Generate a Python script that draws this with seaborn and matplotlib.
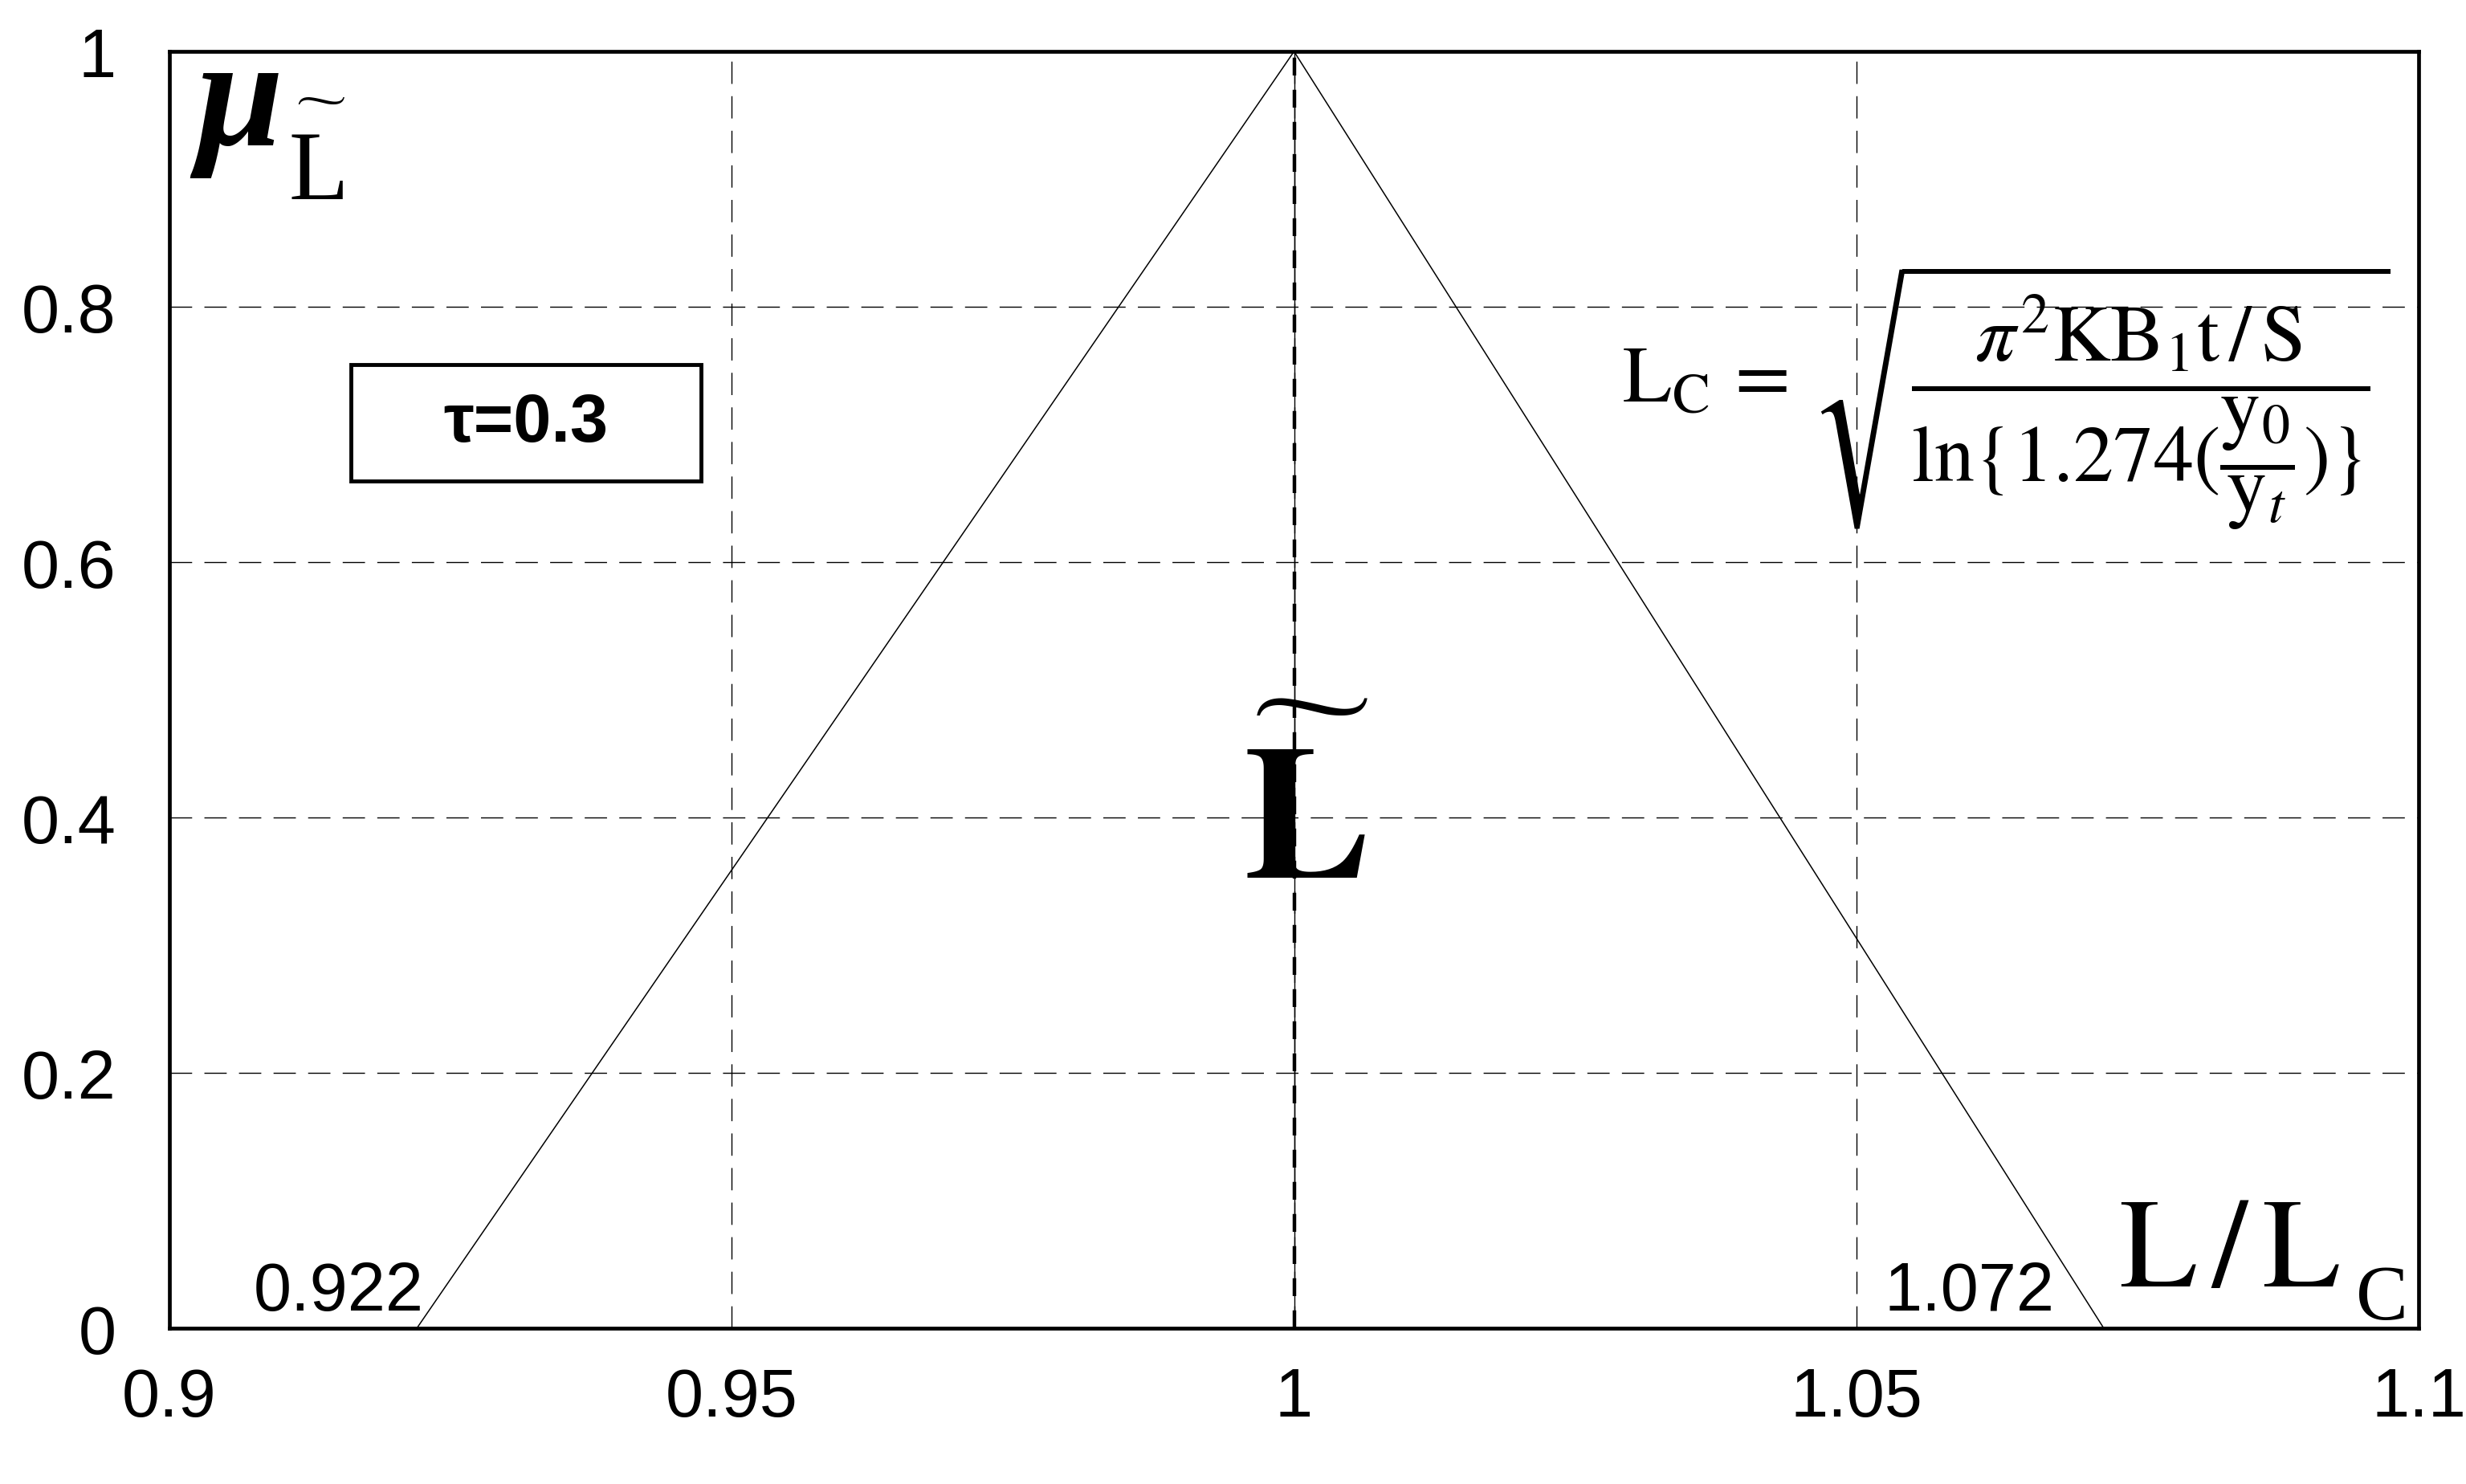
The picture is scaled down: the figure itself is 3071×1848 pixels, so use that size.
import matplotlib
matplotlib.use("Agg")
import matplotlib.pyplot as plt
import matplotlib.patches as mpatches
import seaborn as sns
import pandas as pd

# ---- data ----
x_pts = [0.922, 1.0, 1.072]
mu_pts = [0.0, 1.0, 0.0]
peak_x = 1.0
x_ticks = [0.9, 0.95, 1.0, 1.05, 1.1]
x_tick_labels = ["0.9", "0.95", "1", "1.05", "1.1"]
y_ticks = [0.0, 0.2, 0.4, 0.6, 0.8, 1.0]
y_tick_labels = ["0", "0.2", "0.4", "0.6", "0.8", "1"]
left_foot_label = "0.922"
right_foot_label = "1.072"
tau_label = "\u03c4=0.3"

sns.set_theme(style="white")
plt.rcParams["font.family"] = ["Liberation Sans", "DejaVu Sans"]
plt.rcParams["mathtext.fontset"] = "stix"
plt.rcParams["text.color"] = "black"

SERIF = ["Liberation Serif", "DejaVu Serif"]
WIDE_TILDE = r"$\widetilde{\quad}$"

fig = plt.figure(figsize=(30.71, 18.49), dpi=100)
ax = fig.add_axes([0.0687, 0.1049, 0.9808 - 0.0687, 0.9648 - 0.1049])

df = pd.DataFrame({"x": x_pts, "mu": mu_pts})
sns.lineplot(data=df, x="x", y="mu", ax=ax, color="black", linewidth=1.1,
             sort=False, estimator=None)

# vertical line at the peak
ax.plot([peak_x, peak_x], [0, 1], color="black", linewidth=1.0, zorder=3)
ax.plot([peak_x, peak_x], [0, 1], color="black", linewidth=3.2,
        dashes=(5, 4), zorder=3)

ax.set_xlim(0.9, 1.1)
ax.set_ylim(0, 1)
ax.set_xticks(x_ticks)
ax.set_xticklabels(x_tick_labels)
ax.set_yticks(y_ticks)
ax.set_yticklabels(y_tick_labels)
ax.tick_params(axis="both", length=0, labelsize=61, colors="black")
ax.tick_params(axis="x", pad=34)
ax.tick_params(axis="y", pad=48)
ax.set_xlabel("")
ax.set_ylabel("")

ax.grid(True, color="black", linewidth=1.0, linestyle=(0, (20, 11)))
for s in ax.spines.values():
    s.set_visible(True)
    s.set_color("black")
    s.set_linewidth(3.4)

# annotations
ax.text(0.9226, 0.0145, left_foot_label, ha="right", va="baseline", fontsize=61)
ax.text(1.0676, 0.0145, right_foot_label, ha="right", va="baseline", fontsize=61)

# big L with tilde
ax.text(1.0009, 0.3535, r"$\mathbf{L}$", ha="center", va="baseline",
        fontsize=170)
ax.text(1.0010, 0.4970, WIDE_TILDE, ha="center", va="center", fontsize=137)

# axis name L / L_C
ax.text(1.0734, 0.0333, r"$\mathrm{L\,/\,L}$", ha="left", va="baseline",
        fontsize=114)
ax.text(1.0944, 0.0076, "C", ha="left", va="baseline", fontsize=70,
        family=SERIF)

# mu with tilde-L subscript
ax.text(0.9024, 0.9277, "\u03bc", ha="left", va="baseline", fontsize=140,
        family=SERIF, style="italic", fontweight="bold")
ax.text(0.9106, 0.8849, "L", ha="left", va="baseline", fontsize=88,
        family=SERIF)
ax.text(0.9133, 0.9670, WIDE_TILDE, ha="center", va="center", fontsize=57)

# tau box
ax.add_patch(mpatches.Rectangle((0.0807, 0.6635), 0.2363 - 0.0807,
                                0.7547 - 0.6635, transform=ax.transAxes,
                                fill=False, edgecolor="black", linewidth=3.5,
                                zorder=4))
ax.text((0.0807 + 0.2363) / 2, (0.6635 + 0.7547) / 2, tau_label,
        transform=ax.transAxes, ha="center", va="center", fontsize=61,
        fontweight="bold")

formula = (r"$\mathrm{L_C}\,=\,\sqrt{\dfrac{\pi^2\mathrm{KB_1t\,/\,S}}"
           r"{\mathrm{ln}\{1.274(\dfrac{\mathrm{y}_0}{\mathrm{y}_t})\}}}$")
ax.text(1.0292, 0.7300, formula, ha="left", va="center", fontsize=72)

fig.savefig("out.png", dpi=100, facecolor="white")
